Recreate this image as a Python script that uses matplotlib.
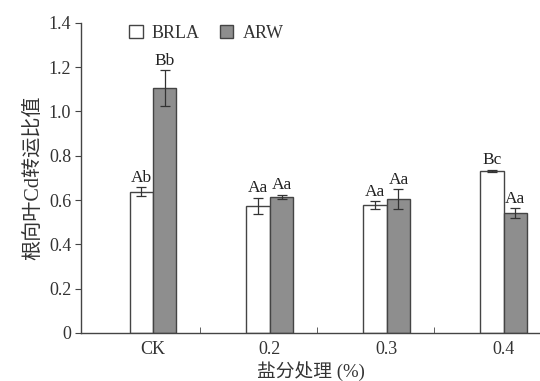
import matplotlib
matplotlib.use("Agg")
import matplotlib.pyplot as plt
import numpy as np

categories = ["CK", "0.2", "0.3", "0.4"]
brla = [0.637, 0.573, 0.578, 0.733]
brla_err = [0.02, 0.037, 0.018, 0.005]
arw = [1.106, 0.615, 0.605, 0.540]
arw_err = [0.08, 0.01, 0.045, 0.022]
brla_labels = ["Ab", "Aa", "Aa", "Bc"]
arw_labels = ["Bb", "Aa", "Aa", "Aa"]
yticks = [0, 0.2, 0.4, 0.6, 0.8, 1.0, 1.2, 1.4]
ytick_labels = ["0", "0.2", "0.4", "0.6", "0.8", "1.0", "1.2", "1.4"]

fam = ["Liberation Serif", "Noto Sans CJK SC"]
plt.rcParams["font.family"] = fam

fig = plt.figure(figsize=(5.4, 3.81), dpi=100)
ax = fig.add_axes([0.15, 0.126, 0.85, 0.814])

x = np.arange(len(categories))
w = 0.2
gray = "#8e8e8e"
edge = "#444444"
ax.bar(x - w / 2, brla, w, color="white", edgecolor=edge, linewidth=1.0, label="BRLA")
ax.bar(x + w / 2, arw, w, color=gray, edgecolor=edge, linewidth=1.0, label="ARW")
ax.errorbar(x - w / 2, brla, yerr=brla_err, fmt="none", ecolor="#333333", elinewidth=0.9, capsize=3.5, capthick=0.9)
ax.errorbar(x + w / 2, arw, yerr=arw_err, fmt="none", ecolor="#333333", elinewidth=0.9, capsize=3.5, capthick=0.9)

for i in range(len(categories)):
    ax.annotate(brla_labels[i], (x[i] - w / 2, brla[i] + brla_err[i]), xytext=(0, 1.0),
                textcoords="offset points", ha="center", va="bottom", fontsize=12.5, color="#222222")
    ax.annotate(arw_labels[i], (x[i] + w / 2, arw[i] + arw_err[i]), xytext=(0, 1.0),
                textcoords="offset points", ha="center", va="bottom", fontsize=12.5, color="#222222")

ax.set_ylim(0, 1.4)
ax.set_xlim(-0.615, 3.31)
ax.set_yticks(yticks)
ax.set_yticklabels(ytick_labels, fontsize=13, color="#333333")
ax.set_xticks(x)
ax.set_xticklabels(categories, fontsize=13, color="#333333")
ax.set_xticks(x[:-1] + 0.4, minor=True)
ax.tick_params(axis="x", which="major", length=0, pad=6)
ax.tick_params(axis="x", which="minor", length=4, direction="in", color="#444444")
ax.tick_params(axis="y", length=4, direction="out", color="#444444", pad=3)

for s in ["top", "right"]:
    ax.spines[s].set_visible(False)
for s in ["left", "bottom"]:
    ax.spines[s].set_color("#444444")
    ax.spines[s].set_linewidth(1.0)

ax.set_ylabel("根向叶Cd转运比值", fontsize=14.5, color="#333333", labelpad=4)
ax.set_xlabel("盐分处理 (%)", fontsize=13.5, color="#333333", labelpad=2)

leg = ax.legend(loc="upper left", bbox_to_anchor=(0.07, 1.045), ncol=2, frameon=False,
                fontsize=13, handlelength=0.75, handleheight=0.75, handletextpad=0.5,
                columnspacing=1.1)
for t in leg.get_texts():
    t.set_color("#333333")

fig.savefig("out.png", dpi=100)
